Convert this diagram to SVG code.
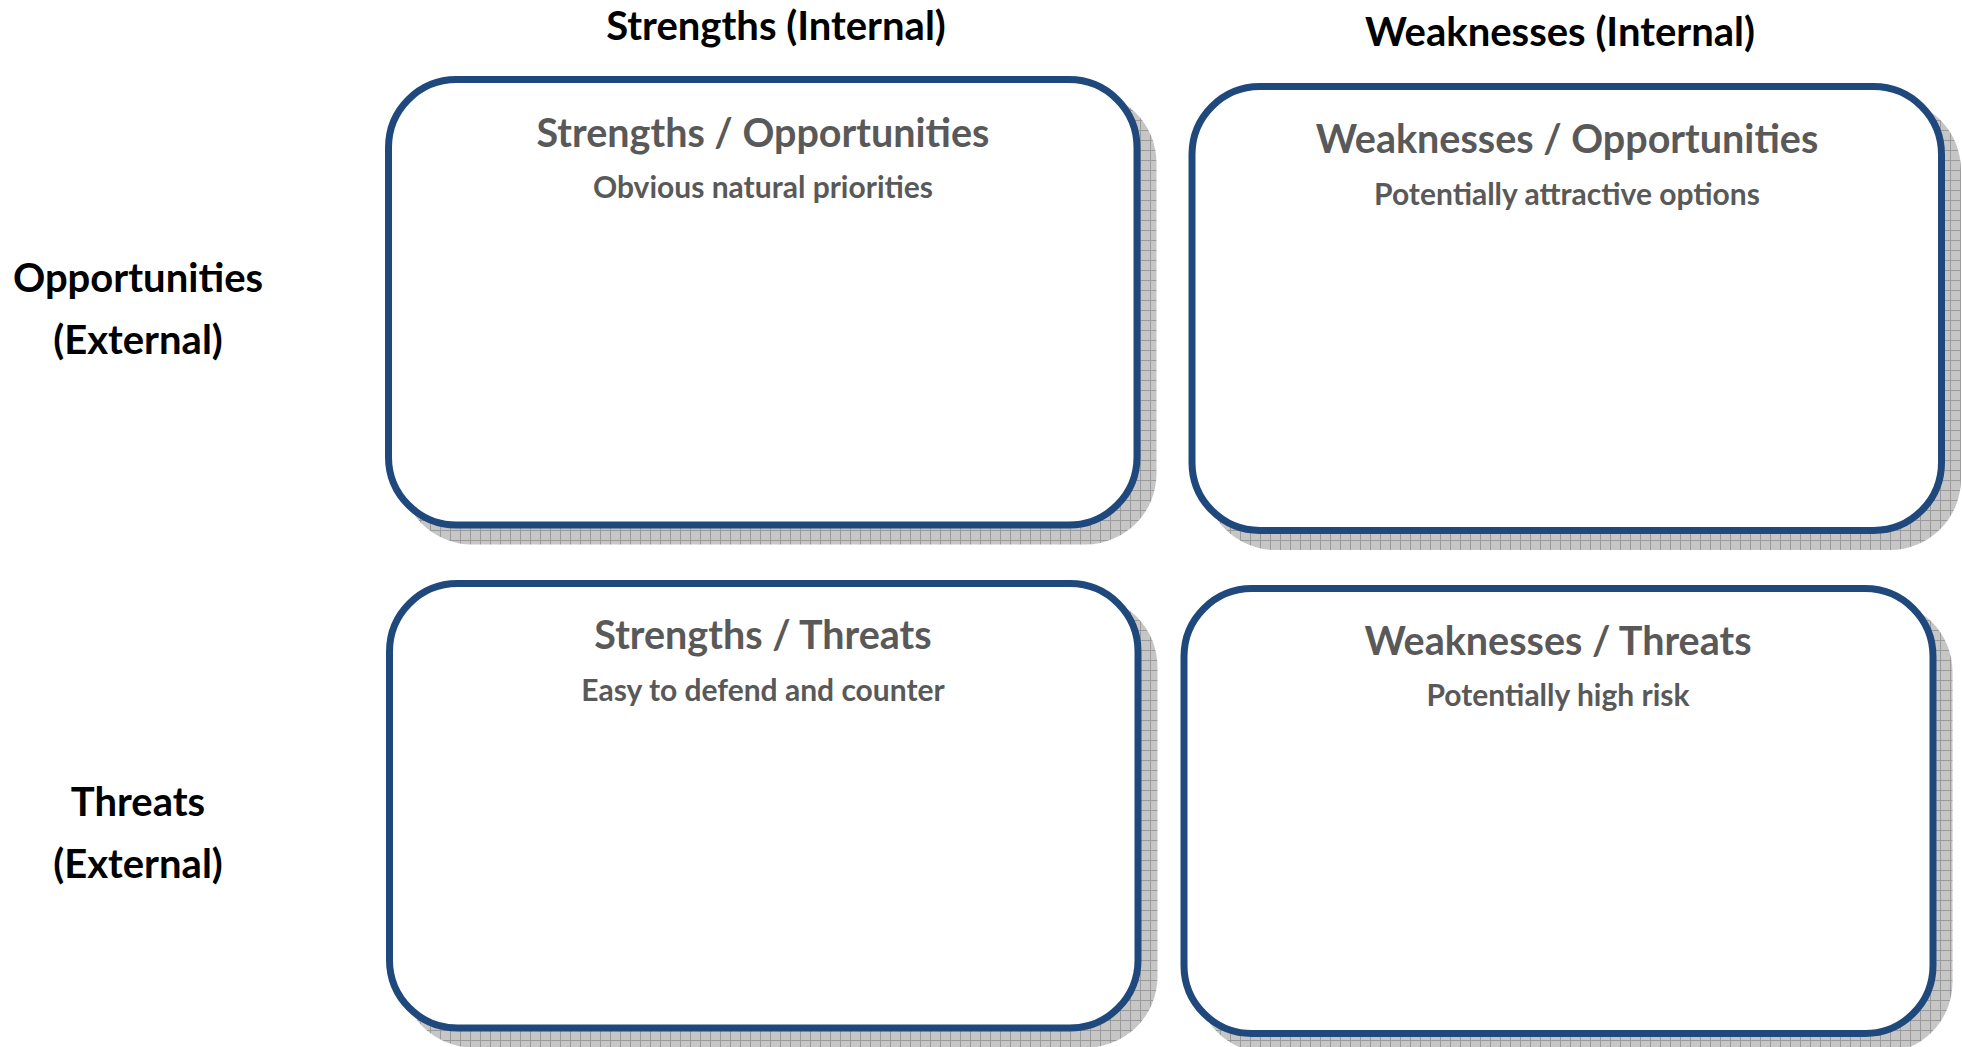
<svg xmlns="http://www.w3.org/2000/svg" width="1962" height="1047" viewBox="0 0 1962 1047">
<style>
.box{fill:#ffffff;stroke:#1F497D;stroke-width:7}
.shadow{fill:url(#hatch)}
.title{font-family:Lato,"Open Sans",sans-serif;font-weight:bold;font-size:39.5px;fill:#595959;text-anchor:middle}
.sub{font-family:Lato,"Open Sans",sans-serif;font-weight:bold;font-size:30px;fill:#595959;text-anchor:middle}
.head{font-family:Lato,"Open Sans",sans-serif;font-weight:bold;font-size:40px;fill:#000000;text-anchor:middle}
</style>
<defs>
<pattern id="hatch" width="10" height="10" patternUnits="userSpaceOnUse">
<rect width="10" height="10" fill="#c6c6c6"/>
<path d="M0 0.5H10M0.5 0V10" stroke="#9a9a9a" stroke-width="1"/>
</pattern>
</defs>
<rect width="1962" height="1047" fill="#ffffff"/>
<g id="headers">
<text class="head" x="776" y="40">Strengths (Internal)</text>
<text class="head" x="1560" y="46">Weaknesses (Internal)</text>
<text class="head" x="138" y="292">Opportunities</text>
<text class="head" x="138" y="354">(External)</text>
<text class="head" x="138" y="816">Threats</text>
<text class="head" x="138" y="878">(External)</text>
</g>
<g id="so">
<rect class="shadow" x="401" y="92" width="755.5" height="452.5" rx="71"/>
<rect class="box" x="388.5" y="79.5" width="748.5" height="445.5" rx="68"/>
<text class="title" x="763" y="147">Strengths / Opportunities</text>
<text class="sub" x="763" y="198">Obvious natural priorities</text>
</g>
<g id="wo">
<rect class="shadow" x="1204.5" y="99" width="756.5" height="451" rx="71"/>
<rect class="box" x="1192" y="86.5" width="749.5" height="444" rx="68"/>
<text class="title" x="1567" y="153">Weaknesses / Opportunities</text>
<text class="sub" x="1567" y="205">Potentially attractive options</text>
</g>
<g id="st">
<rect class="shadow" x="402" y="596" width="755.5" height="451.5" rx="71"/>
<rect class="box" x="389.5" y="583.5" width="748.5" height="444.5" rx="68"/>
<text class="title" x="763" y="649">Strengths / Threats</text>
<text class="sub" x="763" y="701">Easy to defend and counter</text>
</g>
<g id="wt">
<rect class="shadow" x="1196.5" y="601" width="756" height="452" rx="71"/>
<rect class="box" x="1184" y="588.5" width="749" height="445" rx="68"/>
<text class="title" x="1558" y="655">Weaknesses / Threats</text>
<text class="sub" x="1558" y="706">Potentially high risk</text>
</g>
<g id="connectors"></g>
</svg>
